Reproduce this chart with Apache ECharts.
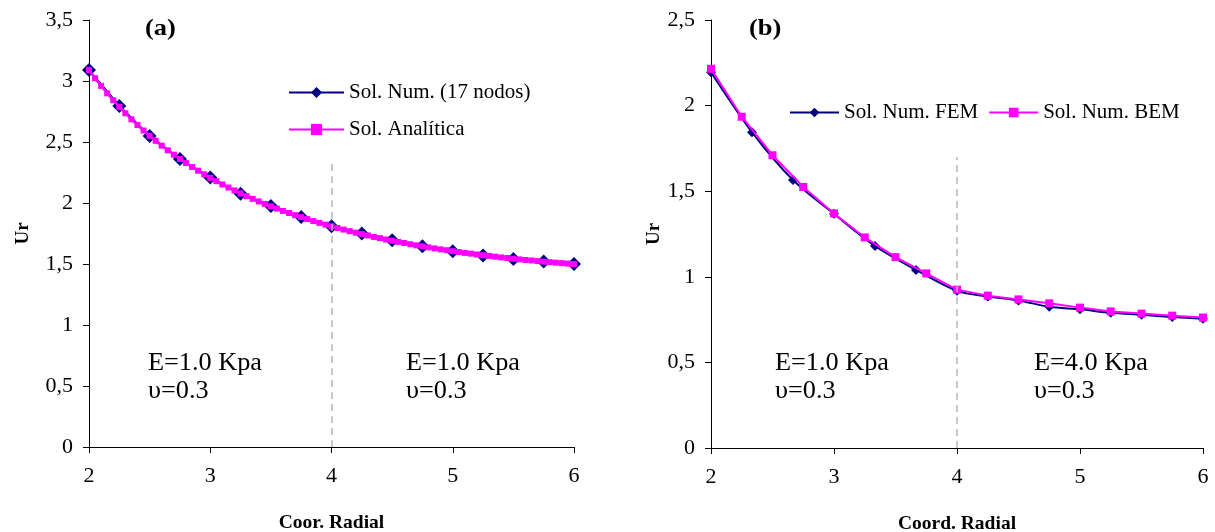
<!DOCTYPE html>
<html><head><meta charset="utf-8">
<script src="https://cdn.jsdelivr.net/npm/echarts@6/dist/echarts.min.js"></script>
<style>html,body{margin:0;padding:0;background:#fff}#c{width:1215px;height:532px}</style>
</head><body><div id="c"></div>
<script>
// Chart (a)
const aNumX = [2,2.25,2.5,2.75,3,3.25,3.5,3.75,4,4.25,4.5,4.75,5,5.25,5.5,5.75,6];
const aNumY = [3.09,2.795,2.55,2.36,2.21,2.075,1.975,1.885,1.81,1.75,1.695,1.645,1.605,1.57,1.54,1.52,1.50];
const aAnaX = [2,2.05,2.1,2.15,2.2,2.25,2.3,2.35,2.4,2.45,2.5,2.55,2.6,2.65,2.7,2.75,2.8,2.85,2.9,2.95,
  3,3.05,3.1,3.15,3.2,3.25,3.3,3.35,3.4,3.45,3.5,3.55,3.6,3.65,3.7,3.75,3.8,3.85,3.9,3.95,
  4,4.05,4.1,4.15,4.2,4.25,4.3,4.35,4.4,4.45,4.5,4.55,4.6,4.65,4.7,4.75,4.8,4.85,4.9,4.95,
  5,5.05,5.1,5.15,5.2,5.25,5.3,5.35,5.4,5.45,5.5,5.55,5.6,5.65,5.7,5.75,5.8,5.85,5.9,5.95,6];
const aAnaY = [3.09,3.023,2.96,2.899,2.842,2.788,2.736,2.686,2.639,2.594,2.551,2.51,2.47,2.432,2.396,2.361,2.327,2.295,2.265,2.235,
  2.206,2.179,2.152,2.127,2.103,2.079,2.056,2.034,2.013,1.993,1.973,1.954,1.935,1.918,1.9,1.884,1.868,1.852,1.837,1.823,
  1.809,1.795,1.782,1.769,1.757,1.745,1.734,1.722,1.712,1.701,1.691,1.681,1.672,1.662,1.653,1.645,1.636,1.628,1.62,1.613,
  1.605,1.598,1.591,1.585,1.578,1.572,1.566,1.56,1.554,1.549,1.543,1.538,1.533,1.529,1.524,1.519,1.515,1.511,1.507,1.503,1.5];
// Chart (b)
const bFemX = [2,2.3333,2.6667,3,3.3333,3.6667,4,4.25,4.5,4.75,5,5.25,5.5,5.75,6];
const bFemY = [2.195,1.845,1.565,1.368,1.18,1.04,0.918,0.885,0.862,0.825,0.81,0.79,0.778,0.765,0.755];
const bBemX = [2,2.25,2.5,2.75,3,3.25,3.5,3.75,4,4.25,4.5,4.75,5,5.25,5.5,5.75,6];
const bBemY = [2.215,1.935,1.71,1.525,1.37,1.23,1.115,1.02,0.925,0.89,0.868,0.845,0.82,0.798,0.785,0.773,0.762];

const xTicks = [2,3,4,5,6];
const names = {aNum:'Sol. Num. (17 nodos)', aAna:'Sol. Analítica', bFem:'Sol. Num. FEM', bBem:'Sol. Num. BEM'};
const dividerA = [[4,0],[4,2.35]];
const dividerB = [[4,0],[4,1.70]];

const zip = (xs, ys) => xs.map((x,i)=>[x, ys[i]]);
const FONT = 'Liberation Serif';
const NAVY = '#000080', PINK = '#FF00FF';

function xAxis(gi, name){
  return {type:'value', gridIndex:gi, min:xTicks[0], max:xTicks[xTicks.length-1], interval:1,
    name:name, nameLocation:'middle', nameGap:66,
    nameTextStyle:{fontFamily:FONT, fontSize:19.5, fontWeight:'bold', color:'#000'},
    axisLine:{lineStyle:{color:'#000', width:1}},
    axisTick:{show:true, inside:false, length:6, lineStyle:{color:'#000'}},
    axisLabel:{fontFamily:FONT, fontSize:22, color:'#000', margin:18},
    splitLine:{show:false}};
}
function yAxis(gi, max, gap){
  return {type:'value', gridIndex:gi, min:0, max:max, interval:0.5,
    name:'Ur', nameLocation:'middle', nameGap:gap, nameRotate:90,
    nameTextStyle:{fontFamily:FONT, fontSize:19, fontWeight:'bold', color:'#000'},
    axisLine:{show:true, lineStyle:{color:'#000', width:1}},
    axisTick:{show:true, inside:false, length:6, lineStyle:{color:'#000'}},
    axisLabel:{fontFamily:FONT, fontSize:22, color:'#000', margin:16,
      formatter: v => String(v).replace('.', ',')},
    splitLine:{show:false}};
}
function divider(xi, pts){
  return {type:'line', xAxisIndex:xi, yAxisIndex:xi, data:[], silent:true,
    markLine:{silent:true, symbol:'none', label:{show:false},
      lineStyle:{color:'#b8b8b8', type:[7,5], width:1.5},
      data:[[{coord:pts[0]},{coord:pts[1]}]]}};
}
const txt = (x,y,t,size,bold,sx) => ({type:'text', x:x, y:y, scaleX:sx,
  style:{text:t, font:(bold?'bold ':'')+size+'px "'+FONT+'"', fill:'#000', textVerticalAlign:'middle'}});

const chart = echarts.init(document.getElementById('c'), null, {renderer:'canvas'});
chart.setOption({
  animation:false,
  backgroundColor:'#fff',
  grid:[{left:89, right:641, top:20, bottom:85, outerBoundsMode:'none', containLabel:false},
        {left:711, right:12, top:20, bottom:84, outerBoundsMode:'none', containLabel:false}],
  xAxis:[xAxis(0,'Coor. Radial'), xAxis(1,'Coord. Radial')],
  yAxis:[yAxis(0,3.5,56), yAxis(1,2.5,43)],
  legend:[
    {orient:'vertical', left:288, top:82, padding:0, itemWidth:55, itemHeight:14, itemGap:16,
     textStyle:{fontFamily:FONT, fontSize:21, color:'#000'},
     data:[names.aNum, names.aAna]},
    {orient:'horizontal', left:789, top:102, padding:0, itemWidth:49, itemHeight:12, itemGap:10,
     textStyle:{fontFamily:FONT, fontSize:21, color:'#000'},
     data:[names.bFem, names.bBem]}
  ],
  graphic:[
    txt(145,29,'(a)',23,true,1.15), txt(749,29,'(b)',23,true,1.15),
    txt(148,363,'E=1.0 Kpa',25,false,1.05), txt(148,391,'υ=0.3',25,false,1.05),
    txt(406,363,'E=1.0 Kpa',25,false,1.05), txt(406,391,'υ=0.3',25,false,1.05),
    txt(775,363,'E=1.0 Kpa',25,false,1.05), txt(775,391,'υ=0.3',25,false,1.05),
    txt(1034,363,'E=4.0 Kpa',25,false,1.05), txt(1034,391,'υ=0.3',25,false,1.05)
  ],
  series:[
    divider(0, dividerA), divider(1, dividerB),
    {name:names.aNum, type:'line', xAxisIndex:0, yAxisIndex:0, data:zip(aNumX,aNumY),
     symbol:'diamond', symbolSize:14, lineStyle:{color:NAVY, width:2},
     itemStyle:{color:NAVY}, z:3},
    {name:names.aAna, type:'line', xAxisIndex:0, yAxisIndex:0, data:zip(aAnaX,aAnaY),
     symbol:'rect', symbolSize:6, lineStyle:{color:PINK, width:2.5},
     itemStyle:{color:PINK}, z:4},
    {name:names.bFem, type:'line', xAxisIndex:1, yAxisIndex:1, data:zip(bFemX,bFemY),
     symbol:'diamond', symbolSize:10, smooth:0.3, lineStyle:{color:NAVY, width:2},
     itemStyle:{color:NAVY}, z:3},
    {name:names.bBem, type:'line', xAxisIndex:1, yAxisIndex:1, data:zip(bBemX,bBemY),
     symbol:'rect', symbolSize:8, lineStyle:{color:PINK, width:2},
     itemStyle:{color:PINK}, z:4}
  ]
});
</script></body></html>
